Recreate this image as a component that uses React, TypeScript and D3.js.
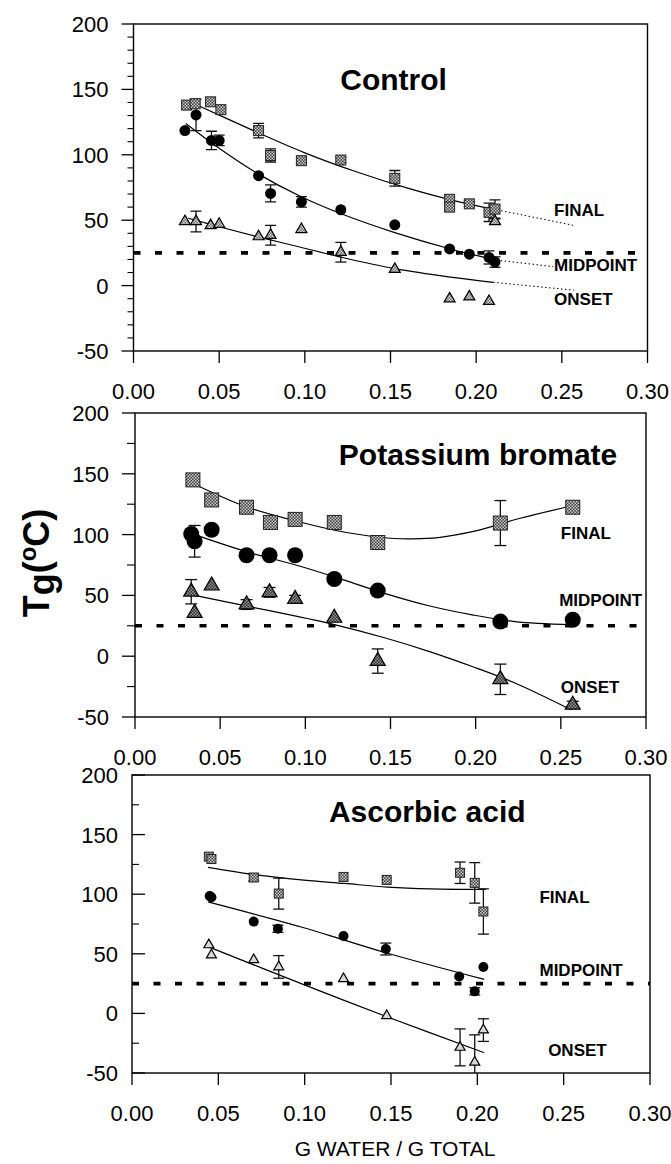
import React from "react";
import * as d3 from "d3";

// [water fraction, Tg °C, error]
type Pt = [number, number, number?];

const X_TICKS = [0, 0.05, 0.1, 0.15, 0.2, 0.25, 0.3];
const Y_TICKS = [-50, 0, 50, 100, 150, 200];
const X_DOMAIN: [number, number] = [0, 0.3];
const Y_DOMAIN: [number, number] = [-50, 200];
const ROOM_TEMP = 25;
const SERIES_NAMES = ["FINAL", "MIDPOINT", "ONSET"];

// ---- Control ----
const CONTROL_FINAL: Pt[] = [
  [0.031, 138], [0.036, 139], [0.045, 140.5], [0.051, 134.5], [0.073, 118.5, 5.5],
  [0.08, 99.5, 5], [0.098, 95.5, 2], [0.121, 96, 2], [0.1525, 82, 6], [0.1845, 66],
  [0.1845, 60], [0.196, 62.5, 2], [0.2075, 56, 7], [0.211, 58.5, 7],
];
const CONTROL_MID: Pt[] = [
  [0.03, 118.5], [0.0365, 130.5, 12], [0.0455, 111, 7], [0.05, 111, 4], [0.073, 84],
  [0.08, 70.5, 6.5], [0.098, 64, 4], [0.121, 58], [0.1525, 46.5], [0.1845, 28],
  [0.196, 24], [0.2075, 21.5, 5], [0.211, 18, 4],
];
const CONTROL_ONSET: Pt[] = [
  [0.03, 49], [0.0365, 49, 8], [0.045, 46], [0.05, 47], [0.073, 37.5], [0.08, 38.5, 7.5],
  [0.098, 43], [0.121, 25.5, 7.5], [0.1525, 12.5], [0.1845, -10], [0.196, -8.5],
  [0.2075, -12], [0.211, 49, 2],
];
const CONTROL_FINAL_FIT: Pt[] = [
  [0.038, 137.5], [0.07, 118.5], [0.1, 101.5], [0.13, 87], [0.16, 74.5], [0.19, 64], [0.21, 58.5],
];
const CONTROL_MID_FIT: Pt[] = [
  [0.0305, 124], [0.05, 105], [0.072, 86], [0.097, 68.5], [0.122, 54.5], [0.1525, 40.5], [0.185, 28], [0.212, 19.5],
];
const CONTROL_ONSET_FIT: Pt[] = [
  [0.032, 51.5], [0.05, 45], [0.072, 37.5], [0.097, 29.5], [0.122, 21.5], [0.1525, 13], [0.185, 6.5], [0.21, 2.5],
];
const CONTROL_FINAL_EXT: Pt[] = [[0.21, 58.5], [0.257, 46]];
const CONTROL_MID_EXT: Pt[] = [[0.212, 19.5], [0.245, 14.5]];
const CONTROL_ONSET_EXT: Pt[] = [[0.21, 2.5], [0.257, -3.5]];

// ---- Potassium bromate ----
const KBRO3_FINAL: Pt[] = [
  [0.034, 145], [0.045, 128.5], [0.0655, 122.5], [0.0795, 110], [0.094, 112.5, 4],
  [0.117, 110], [0.1425, 93.5], [0.2145, 109.5, 18.5], [0.257, 122.5],
];
const KBRO3_MID: Pt[] = [
  [0.033, 100.5], [0.035, 94.5, 13], [0.045, 104], [0.0655, 83], [0.079, 83],
  [0.094, 83, 4], [0.117, 63.5], [0.1425, 54], [0.2145, 28.5], [0.257, 30],
];
const KBRO3_ONSET: Pt[] = [
  [0.033, 53, 10], [0.035, 35.5], [0.045, 58], [0.0655, 42.5, 4], [0.079, 52.5, 4],
  [0.094, 47, 3], [0.117, 31.5], [0.1425, -4, 10], [0.2145, -19, 12.5], [0.257, -40, 3],
];
const KBRO3_FINAL_FIT: Pt[] = [
  [0.034, 142], [0.065, 123], [0.095, 111], [0.125, 101.5], [0.15, 97], [0.163, 96.5],
  [0.178, 97.5], [0.2, 103], [0.225, 113], [0.256, 123.5],
];
const KBRO3_MID_FIT: Pt[] = [
  [0.035, 100], [0.0665, 85.5], [0.097, 74], [0.122, 63], [0.147, 51.5], [0.1725, 41.5],
  [0.198, 34], [0.223, 28.5], [0.256, 26],
];
const KBRO3_ONSET_FIT: Pt[] = [
  [0.035, 50], [0.0665, 41], [0.117, 26], [0.147, 15], [0.1725, 4], [0.198, -8.5],
  [0.223, -22], [0.256, -44],
];

// ---- Ascorbic acid ----
const ASCORBIC_FINAL: Pt[] = [
  [0.0445, 131.5], [0.046, 129.5], [0.0705, 114, 3], [0.085, 100.5, 13], [0.1225, 114.5],
  [0.1475, 112], [0.19, 118, 9], [0.1985, 109.5, 17], [0.2035, 85.5, 19],
];
const ASCORBIC_MID: Pt[] = [
  [0.045, 98.5], [0.046, 97.5], [0.0705, 77], [0.0845, 71, 3], [0.1225, 65],
  [0.147, 54, 5], [0.1895, 31], [0.1985, 18.5, 3], [0.2035, 39],
];
const ASCORBIC_ONSET: Pt[] = [
  [0.0445, 57.5], [0.046, 49], [0.0705, 45], [0.085, 39, 9.5], [0.1225, 29],
  [0.1475, -2], [0.19, -28.5, 15.5], [0.1985, -41, 23], [0.2035, -14, 9.5],
];
const ASCORBIC_FINAL_FIT: Pt[] = [
  [0.044, 122.5], [0.073, 116], [0.098, 112], [0.123, 109], [0.148, 106], [0.173, 104.5], [0.205, 104],
];
const ASCORBIC_MID_FIT: Pt[] = [[0.044, 93.5], [0.098, 72.5], [0.123, 61.5], [0.148, 50.5], [0.204, 28.5]];
const ASCORBIC_ONSET_FIT: Pt[] = [[0.044, 56], [0.098, 25], [0.148, -3], [0.204, -33]];

const FONT = "'Liberation Sans', Arial, Helvetica, sans-serif";

interface PanelSpec {
  id: string;
  title: string;
  titleAt: [number, number];
  left: number; right: number; top: number; bottom: number;
  minorStep: number;
  tickIn: boolean;
  majorLen: number;
  minorLen: number;
  final: Pt[]; mid: Pt[]; onset: Pt[];
  fits: Pt[][];
  exts: Pt[][];
  labelAt: [number, number][];
  sq: number; r: number; tri: number; cap: number;
  triFill: string;
  labelGap: number;
}

const PANELS: PanelSpec[] = [
  {
    id: "ctl", title: "Control", titleAt: [0.1518, 149.5],
    left: 133.5, right: 647.5, top: 24, bottom: 351,
    minorStep: 10, tickIn: false, majorLen: 12, minorLen: 6,
    final: CONTROL_FINAL, mid: CONTROL_MID, onset: CONTROL_ONSET,
    fits: [CONTROL_FINAL_FIT, CONTROL_MID_FIT, CONTROL_ONSET_FIT],
    exts: [CONTROL_FINAL_EXT, CONTROL_MID_EXT, CONTROL_ONSET_EXT],
    labelAt: [[0.2455, 58], [0.2455, 16], [0.2455, -10]],
    sq: 10, r: 5.5, tri: 11, cap: 11, triFill: "url(#checkLight)", labelGap: 25,
  },
  {
    id: "kb", title: "Potassium bromate", titleAt: [0.2014, 157.2],
    left: 135, right: 646, top: 413, bottom: 717,
    minorStep: 25, tickIn: false, majorLen: 13, minorLen: 8,
    final: KBRO3_FINAL, mid: KBRO3_MID, onset: KBRO3_ONSET,
    fits: [KBRO3_FINAL_FIT, KBRO3_MID_FIT, KBRO3_ONSET_FIT],
    exts: [],
    labelAt: [[0.25, 101.5], [0.249, 46.5], [0.25, -25]],
    sq: 14, r: 8, tri: 15, cap: 12, triFill: "url(#checkDark)", labelGap: 26,
  },
  {
    id: "aa", title: "Ascorbic acid", titleAt: [0.171, 160.6],
    left: 132, right: 650, top: 775, bottom: 1073,
    minorStep: 25, tickIn: true, majorLen: 13, minorLen: 7,
    final: ASCORBIC_FINAL, mid: ASCORBIC_MID, onset: ASCORBIC_ONSET,
    fits: [ASCORBIC_FINAL_FIT, ASCORBIC_MID_FIT, ASCORBIC_ONSET_FIT],
    exts: [],
    labelAt: [[0.236, 97.5], [0.236, 36.5], [0.241, -31]],
    sq: 9, r: 5, tri: 10, cap: 11, triFill: "#d8d8d8", labelGap: 14,
  },
];

function triPath(cx: number, cy: number, s: number) {
  const h = s * 0.866;
  return `M${cx},${cy - (2 * h) / 3}L${cx + s / 2},${cy + h / 3}L${cx - s / 2},${cy + h / 3}Z`;
}

function Panel({ p }: { p: PanelSpec }) {
  const x = d3.scaleLinear().domain(X_DOMAIN).range([p.left, p.right]);
  const y = d3.scaleLinear().domain(Y_DOMAIN).range([p.bottom, p.top]);
  const fitLine = d3.line<Pt>().x((d) => x(d[0])).y((d) => y(d[1])).curve(d3.curveCatmullRom.alpha(0.5));
  const straight = d3.line<Pt>().x((d) => x(d[0])).y((d) => y(d[1]));
  const minors = d3.range(Y_DOMAIN[0], Y_DOMAIN[1] + 0.001, p.minorStep).filter((v) => v % 50 !== 0);
  const dir = p.tickIn ? 1 : -1;
  const clipId = `clip-${p.id}`;

  const errBars = (pts: Pt[]) =>
    pts.filter((d) => d[2]).map((d, i) => {
      const cx = x(d[0]);
      const y1 = y(d[1] - (d[2] as number));
      const y2 = y(d[1] + (d[2] as number));
      return (
        <g key={i} stroke="#111" strokeWidth={1.3}>
          <line x1={cx} x2={cx} y1={y1} y2={y2} />
          <line x1={cx - p.cap / 2} x2={cx + p.cap / 2} y1={y1} y2={y1} />
          <line x1={cx - p.cap / 2} x2={cx + p.cap / 2} y1={y2} y2={y2} />
        </g>
      );
    });

  return (
    <g>
      <defs>
        <clipPath id={clipId}>
          <rect x={p.left} y={p.top} width={p.right - p.left} height={p.bottom - p.top} />
        </clipPath>
      </defs>

      {/* room temperature reference */}
      <line
        x1={x(0)} x2={x(0.3)} y1={y(ROOM_TEMP)} y2={y(ROOM_TEMP)}
        stroke="#000" strokeWidth={3.6} strokeDasharray="7 14.5"
      />

      {/* fitted curves */}
      {p.fits.map((f, i) => (
        <path key={i} d={fitLine(f) || ""} fill="none" stroke="#000" strokeWidth={1.2} />
      ))}
      {p.exts.map((f, i) => (
        <path key={i} d={straight(f) || ""} fill="none" stroke="#000" strokeWidth={1} strokeDasharray="1.5 2.5" />
      ))}

      <g clipPath={`url(#${clipId})`}>
        {errBars(p.final)}
        {errBars(p.mid)}
        {errBars(p.onset)}
      </g>

      {/* markers */}
      {p.onset.map((d, i) => (
        <path key={`t${i}`} d={triPath(x(d[0]), y(d[1]), p.tri)} fill={p.triFill} stroke="#000" strokeWidth={1.2} />
      ))}
      {p.mid.map((d, i) => (
        <circle key={`c${i}`} cx={x(d[0])} cy={y(d[1])} r={p.r} fill="#000" />
      ))}
      {p.final.map((d, i) => (
        <rect
          key={`s${i}`} x={x(d[0]) - p.sq / 2} y={y(d[1]) - p.sq / 2} width={p.sq} height={p.sq}
          fill="url(#checkSq)" stroke="#222" strokeWidth={1}
        />
      ))}

      {/* frame */}
      <rect x={p.left} y={p.top} width={p.right - p.left} height={p.bottom - p.top} fill="none" stroke="#000" strokeWidth={1.4} />

      {/* y axis ticks */}
      {Y_TICKS.map((v) => (
        <g key={v}>
          <line x1={p.left} x2={p.left + dir * p.majorLen} y1={y(v)} y2={y(v)} stroke="#000" strokeWidth={1.3} />
          <text
            x={p.left - p.labelGap} y={y(v)} dy="0.36em" textAnchor="end"
            fontFamily={FONT} fontSize={22}
          >
            {v}
          </text>
        </g>
      ))}
      {minors.map((v) => (
        <line key={v} x1={p.left} x2={p.left + dir * p.minorLen} y1={y(v)} y2={y(v)} stroke="#000" strokeWidth={1.1} />
      ))}

      {/* x axis ticks */}
      {X_TICKS.map((v) => (
        <g key={v}>
          <line x1={x(v)} x2={x(v)} y1={p.bottom} y2={p.bottom + 12} stroke="#000" strokeWidth={1.3} />
          <text x={x(v)} y={p.bottom + 48} textAnchor="middle" fontFamily={FONT} fontSize={22}>
            {d3.format(".2f")(v)}
          </text>
        </g>
      ))}

      {/* series labels */}
      {SERIES_NAMES.map((s, i) => (
        <text
          key={s} x={x(p.labelAt[i][0])} y={y(p.labelAt[i][1])} dy="0.36em"
          fontFamily={FONT} fontWeight="bold" fontSize={17}
        >
          {s}
        </text>
      ))}

      <text
        x={x(p.titleAt[0])} y={y(p.titleAt[1])} textAnchor="middle"
        fontFamily={FONT} fontWeight="bold" fontSize={30}
      >
        {p.title}
      </text>
    </g>
  );
}

export default function App() {
  return (
    <svg
      width={671}
      height={1164}
      viewBox="0 0 671 1164"
      style={{ position: "absolute", left: 0, top: 0, background: "#fff" }}
    >
      <defs>
        <pattern id="checkSq" width="3" height="3" patternUnits="userSpaceOnUse">
          <rect width="3" height="3" fill="#3c3c3c" />
          <rect width="1.5" height="1.5" fill="#d0d0d0" />
          <rect x="1.5" y="1.5" width="1.5" height="1.5" fill="#d0d0d0" />
        </pattern>
        <pattern id="checkLight" width="3" height="3" patternUnits="userSpaceOnUse">
          <rect width="3" height="3" fill="#666" />
          <rect width="1.5" height="1.5" fill="#e0e0e0" />
          <rect x="1.5" y="1.5" width="1.5" height="1.5" fill="#e0e0e0" />
        </pattern>
        <pattern id="checkDark" width="3" height="3" patternUnits="userSpaceOnUse">
          <rect width="3" height="3" fill="#2a2a2a" />
          <rect width="1.5" height="1.5" fill="#999" />
          <rect x="1.5" y="1.5" width="1.5" height="1.5" fill="#999" />
        </pattern>
      </defs>
      <rect width={671} height={1164} fill="#fff" />
      {PANELS.map((p) => (
        <Panel key={p.id} p={p} />
      ))}

      <text
        transform="translate(49,563) rotate(-90)" textAnchor="middle"
        fontFamily={FONT} fontWeight="bold" fontSize={36}
      >
        <tspan>T</tspan>
        <tspan dy="5">g</tspan>
        <tspan dy="-5">(</tspan>
        <tspan dy="-13" fontSize={24}>o</tspan>
        <tspan dy="13">C)</tspan>
      </text>

      <text x={395} y={1156} textAnchor="middle" fontFamily={FONT} fontSize={21}>
        G WATER / G TOTAL
      </text>
    </svg>
  );
}
